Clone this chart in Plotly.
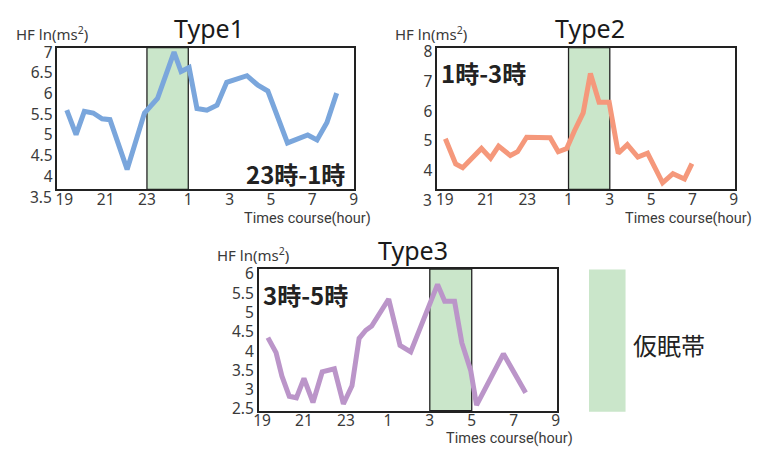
import plotly.graph_objects as go

# Hours are counted continuously from 19:00 (24 = midnight, 25 = 1:00, ...)
x_tick_hours = [19, 21, 23, 25, 27, 29, 31, 33]
x_tick_labels = ["19", "21", "23", "1", "3", "5", "7", "9"]

type1_hours = [19.12, 19.57, 19.97, 20.40, 20.83, 21.21, 22.04, 22.88, 23.51, 24.31,
               24.65, 25.04, 25.42, 25.90, 26.39, 26.86, 27.84, 28.37, 28.85, 29.80,
               30.78, 31.23, 31.71, 32.18]
type1_hf = [5.60, 5.01, 5.57, 5.53, 5.39, 5.37, 4.17, 5.53, 5.88, 7.00,
            6.53, 6.63, 5.64, 5.60, 5.72, 6.27, 6.43, 6.20, 6.06, 4.81,
            5.00, 4.88, 5.30, 6.01]

type2_hours = [19.03, 19.53, 19.87, 20.78, 21.22, 21.61, 22.18, 22.53, 22.97, 23.50,
               24.11, 24.50, 24.91, 25.29, 25.71, 26.06, 26.48, 26.97, 27.41, 27.85,
               28.36, 28.83, 29.56, 30.06, 30.62, 30.98]
type2_hf = [5.07, 4.22, 4.09, 4.74, 4.41, 4.82, 4.50, 4.63, 5.12, 5.10,
            5.10, 4.63, 4.74, 5.34, 5.94, 7.27, 6.30, 6.30, 4.58, 4.87,
            4.45, 4.58, 3.58, 3.89, 3.71, 4.23]

type3_hours = [19.28, 19.67, 19.95, 20.30, 20.64, 21.00, 21.43, 21.87, 22.45, 22.88,
               23.29, 23.63, 23.95, 24.23, 25.04, 25.58, 26.09, 27.37, 27.71, 28.18,
               28.53, 28.95, 29.23, 30.51, 31.57]
type3_hf = [4.35, 3.96, 3.35, 2.83, 2.79, 3.29, 2.67, 3.46, 3.54, 2.63,
            3.10, 4.33, 4.54, 4.65, 5.35, 4.15, 3.98, 5.73, 5.29, 5.29,
            4.21, 3.50, 2.60, 3.93, 2.92]

titles = ["Type1", "Type2", "Type3"]
nap_windows = [(23, 25), (25, 27), (27, 29)]
nap_labels = ["23時-1時", "1時-3時", "3時-5時"]
legend_label = "仮眠帯"

y_ticks = [
    [4, 4.5, 5, 5.5, 6, 6.5, 7],
    [4, 5, 6, 7, 8],
    [2.5, 3, 3.5, 4, 4.5, 5, 5.5, 6],
]
# lowest labels that sit level with the time axis labels
extra_low_ticks = [3.5, 3, None]

line_colors = ["#7aa6dc", "#f5987b", "#bb95c9"]
nap_fill = "#cae6ca"
ink = "#222222"
tick_color = "#3a3a3a"
latin = "Noto Sans, Roboto, sans-serif"
narrow = "Roboto, Noto Sans, sans-serif"
cjk = "Noto Sans CJK JP, Noto Sans, sans-serif"

W, H = 759, 453

# panel frames in pixels: (left, right, top, bottom)
frames = [(53, 353, 42, 189), (437.3, 739, 42, 189), (256.7, 558.3, 271.7, 418.3)]
x_ranges = [[18.665, 33.01], [18.63, 33.08], [18.84, 33.05]]
y_ranges = [[3.69, 7.11], [3.36, 8.15], [2.46, 6.125]]


def px(v):
    return v / W


def py(v):
    return 1 - v / H


fig = go.Figure()
series = [(type1_hours, type1_hf), (type2_hours, type2_hf), (type3_hours, type3_hf)]

annotations = []
shapes = []
layout_axes = {}

for i, ((hrs, vals), (l, r, t, b)) in enumerate(zip(series, frames)):
    n = "" if i == 0 else str(i + 1)
    xa, ya = "x" + n, "y" + n
    fig.add_trace(go.Scatter(
        x=hrs, y=vals, mode="lines", xaxis=xa, yaxis=ya,
        line=dict(color=line_colors[i], width=5), showlegend=False,
        hoverinfo="skip",
    ))

    layout_axes["xaxis" + n] = dict(
        domain=[px(l), px(r)], range=x_ranges[i], anchor=ya,
        tickvals=x_tick_hours, ticktext=x_tick_labels,
        showgrid=False, zeroline=False, showline=True, mirror=True,
        linecolor=ink, linewidth=1.5, ticks="", ticklabelstandoff=-5,
        tickfont=dict(family=latin, size=15.5, color=tick_color),
    )
    layout_axes["yaxis" + n] = dict(
        domain=[py(b), py(t)], range=y_ranges[i], anchor=xa,
        tickvals=y_ticks[i], ticktext=[f"{v:g}" for v in y_ticks[i]],
        showgrid=False, zeroline=False, showline=True, mirror=True,
        linecolor=ink, linewidth=1.5, ticks="",
        tickfont=dict(family=latin, size=15.5, color=tick_color),
    )

    # nap band
    x0, x1 = nap_windows[i]
    shapes.append(dict(
        type="rect", xref=xa, yref=ya + " domain", x0=x0, x1=x1, y0=0, y1=1,
        fillcolor=nap_fill, line=dict(color=ink, width=1.3), layer="below",
    ))

    low = extra_low_ticks[i]
    if low is not None:
        lo, hi = y_ranges[i]
        annotations.append(dict(
            xref=xa + " domain", yref=ya + " domain", x=0, y=(low - lo) / (hi - lo),
            xanchor="right", yanchor="middle", xshift=-3,
            text=f"{low:g}", showarrow=False,
            font=dict(family=latin, size=15.5, color=tick_color),
        ))

# titles
for txt, (cx, cy) in zip(titles, [(206, 22), (592, 22), (413, 252)]):
    annotations.append(dict(
        xref="paper", yref="paper", x=px(cx), y=py(cy), xanchor="center",
        yanchor="middle", text=txt, showarrow=False,
        font=dict(family=latin, size=25, color="#1a1a1a"),
    ))

# y-axis names (anchored by the bottom of the text box)
for (lx, ly) in [(9, 40), (393, 40), (213, 270)]:
    annotations.append(dict(
        xref="paper", yref="paper", x=px(lx), y=py(ly), xanchor="left",
        yanchor="bottom", text="HF ln(ms<sup>2</sup>)", showarrow=False,
        font=dict(family=latin, size=15, color=tick_color),
    ))

# x-axis names
for (lx, ly) in [(240, 219), (625, 219), (444, 447)]:
    annotations.append(dict(
        xref="paper", yref="paper", x=px(lx), y=py(ly), xanchor="left",
        yanchor="middle", text="Times course(hour)", showarrow=False,
        font=dict(family=narrow, size=14.5, color=tick_color),
    ))

# nap window captions
for txt, (cx, cy) in zip(nap_labels, [(294, 173), (484, 68), (304, 298)]):
    annotations.append(dict(
        xref="paper", yref="paper", x=px(cx), y=py(cy), xanchor="center",
        yanchor="middle", text=f"<b>{txt}</b>", showarrow=False,
        font=dict(family=cjk, size=24, color=ink),
    ))

# legend swatch and label
shapes.append(dict(
    type="rect", xref="paper", yref="paper", x0=px(591), x1=px(628),
    y0=py(419.5), y1=py(272), fillcolor=nap_fill, line=dict(width=0),
))
annotations.append(dict(
    xref="paper", yref="paper", x=px(672), y=py(350), xanchor="center",
    yanchor="middle", text=legend_label, showarrow=False,
    font=dict(family=cjk, size=24, color=ink),
))

fig.update_layout(
    width=W, height=H, margin=dict(l=0, r=0, t=0, b=0),
    paper_bgcolor="white", plot_bgcolor="white",
    shapes=shapes, annotations=annotations, showlegend=False,
    **layout_axes,
)

fig.write_html("out.html")
